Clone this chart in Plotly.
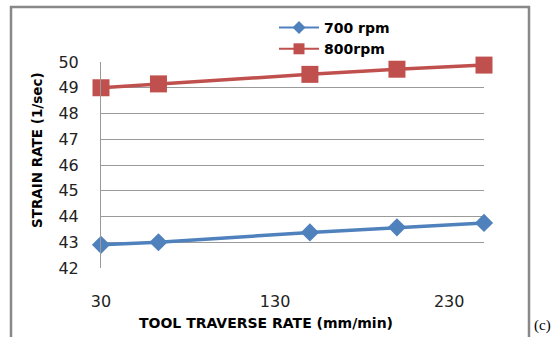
import plotly.graph_objects as go

# Tool traverse rate (mm/min) and strain rate (1/sec) for two spindle speeds
traverse_rate = [30, 63, 150, 200, 250]
strain_700 = [42.9, 43.0, 43.38, 43.58, 43.75]
strain_800 = [49.0, 49.15, 49.52, 49.72, 49.88]
series_names = ["700 rpm", "800rpm"]
x_ticks = [30, 130, 230]
y_ticks = [42, 43, 44, 45, 46, 47, 48, 49, 50]

W, H = 555, 337
ML, MR, MT, MB = 101, 71, 62, 69
PW, PH = W - ML - MR, H - MT - MB


def px(xp):
    return (xp - ML) / PW


def py(yp):
    return (H - MB - yp) / PH


styles = [
    dict(color="#4F81BD", symbol="diamond", size=14, key=10),
    dict(color="#C0504D", symbol="square", size=17, key=11),
]
series = [strain_700, strain_800]

fig = go.Figure()
for name, vals, st in zip(series_names, series, styles):
    fig.add_trace(go.Scatter(
        x=traverse_rate, y=vals, name=name, mode="lines+markers",
        line=dict(color=st["color"], width=3.5), cliponaxis=False,
        marker=dict(symbol=st["symbol"], size=st["size"], color=st["color"]),
        showlegend=False,
    ))
# legend keys with smaller symbols
for name, st in zip(series_names, styles):
    fig.add_trace(go.Scatter(
        x=[None], y=[None], name="<b>" + name + "</b>", mode="lines+markers",
        line=dict(color=st["color"], width=2),
        marker=dict(symbol=st["symbol"], size=st["key"], color=st["color"]),
    ))

# outer chart frame
fig.add_shape(type="rect", xref="paper", yref="paper",
              x0=px(11), x1=px(529), y0=py(360), y1=py(7),
              line=dict(color="#888888", width=2.5), layer="below")

fig.add_annotation(text="(c)", xref="paper", yref="paper",
                   x=px(532), y=py(336), xanchor="left", yanchor="bottom",
                   showarrow=False,
                   font=dict(family="Liberation Serif", size=15, color="#000000"))

# axis titles
fig.add_annotation(text="<b>TOOL TRAVERSE RATE (mm/min)</b>", xref="paper", yref="paper",
                   x=px(266), y=py(323), xanchor="center", yanchor="middle",
                   showarrow=False,
                   font=dict(family="DejaVu Sans", size=14, color="#000000"))
fig.add_annotation(text="<b>STRAIN RATE (1/sec)</b>", xref="paper", yref="paper",
                   x=px(37), y=py(150), xanchor="center", yanchor="middle",
                   textangle=-90, showarrow=False,
                   font=dict(family="DejaVu Sans", size=13.5, color="#000000"))

fig.update_layout(
    width=W, height=H,
    margin=dict(l=ML, r=MR, t=MT, b=MB),
    paper_bgcolor="white", plot_bgcolor="white",
    showlegend=True,
    legend=dict(x=px(274), y=py(12), xanchor="left", yanchor="top",
                bgcolor="rgba(0,0,0,0)", tracegroupgap=0,
                font=dict(family="DejaVu Sans", size=14, color="#000000"),
                itemwidth=40),
    font=dict(family="DejaVu Sans", color="#000000"),
)
fig.update_xaxes(
    range=[30, 250], tickvals=x_ticks, showgrid=False, zeroline=False,
    showline=False, ticks="", ticklabelstandoff=22,
    tickfont=dict(family="DejaVu Sans", size=16, color="#222222"),
)
fig.update_yaxes(
    range=[42, 50], tickvals=y_ticks, showgrid=True, gridcolor="#9a9a9a",
    gridwidth=1, zeroline=False, showline=True, linecolor="#9a9a9a",
    linewidth=1, ticks="", ticklabelstandoff=18,
    tickfont=dict(family="DejaVu Sans", size=16, color="#222222"),
)

fig.write_html("out.html")
